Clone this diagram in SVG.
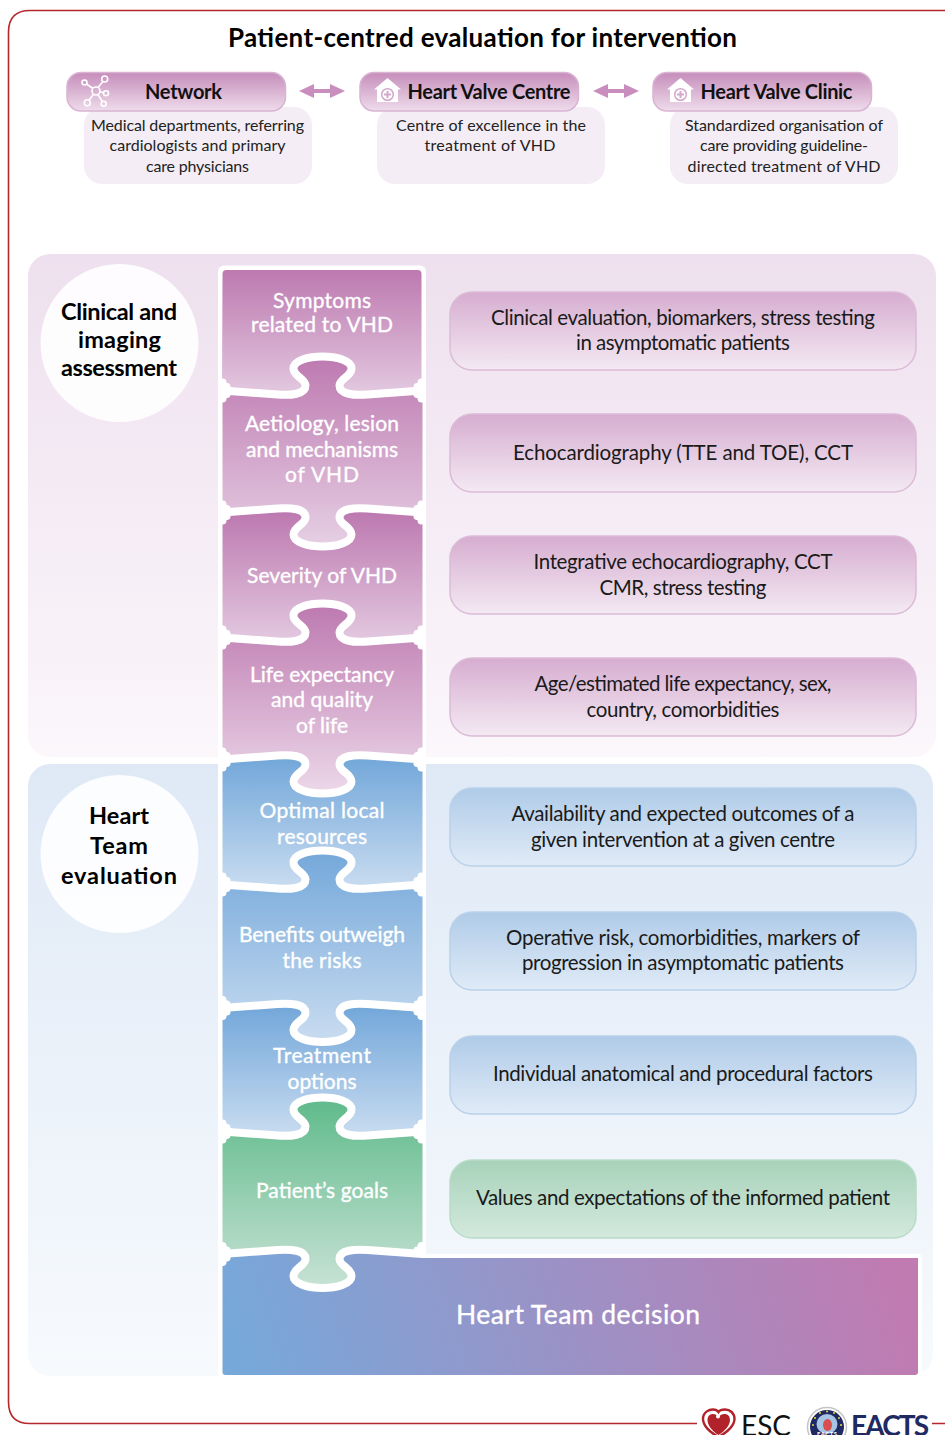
<svg xmlns="http://www.w3.org/2000/svg" xmlns:xlink="http://www.w3.org/1999/xlink" width="945" height="1435" viewBox="0 0 945 1435">
<style>
text{font-family:"Lato","Liberation Sans",sans-serif;text-anchor:middle}
.title{font-size:26px;font-weight:700;fill:#000}
.pt{font-size:20px;font-weight:700;fill:#111}
.dt{font-size:16px;fill:#222}
.ct{font-size:23.5px;font-weight:700;fill:#000}
.pz{font-size:21px;fill:#fff;stroke:#fff;stroke-width:.35}
.bt{font-size:20.5px;fill:#1a1a1a}
.pill{fill:url(#gPill);stroke:#d9b4d2;stroke-width:1.5}
.desc{fill:#f4edf5}
.seam{fill:none;stroke:#fff;stroke-width:8;stroke-linecap:butt;stroke-linejoin:round}
.bp{stroke:#dcbbd7;stroke-width:1.5;fill:url(#gBP)}
.bb{stroke:#b9d1ea;stroke-width:1.5;fill:url(#gBB)}
.bg{stroke:#b9dcc8;stroke-width:1.5;fill:url(#gBG)}
.ico{fill:none;stroke:#fff;stroke-width:1.6}
.hic{fill:none;stroke:#d3a8cb}
</style>
<defs>
<linearGradient id="gPill" x1="0" y1="0" x2="0" y2="1"><stop offset="0" stop-color="#c68dbb"/><stop offset="1" stop-color="#eedceb"/></linearGradient>
<linearGradient id="gP1" x1="0" y1="0" x2="0" y2="1"><stop offset="0" stop-color="#eee0ee"/><stop offset="1" stop-color="#fbf7fb"/></linearGradient>
<linearGradient id="gP2" x1="0" y1="0" x2="0" y2="1"><stop offset="0" stop-color="#dfe9f6"/><stop offset="1" stop-color="#f7fafd"/></linearGradient>
<linearGradient id="gBP" x1="0" y1="0" x2="0" y2="1"><stop offset="0" stop-color="#d6add0"/><stop offset="1" stop-color="#f4e9f3"/></linearGradient>
<linearGradient id="gBB" x1="0" y1="0" x2="0" y2="1"><stop offset="0" stop-color="#afcbe8"/><stop offset="1" stop-color="#e0ebf7"/></linearGradient>
<linearGradient id="gBG" x1="0" y1="0" x2="0" y2="1"><stop offset="0" stop-color="#a7d2b9"/><stop offset="1" stop-color="#d3e9dd"/></linearGradient>
<linearGradient id="g1" gradientUnits="userSpaceOnUse" x1="0" y1="270" x2="0" y2="395"><stop offset="0" stop-color="#bd79b0"/><stop offset="1" stop-color="#e3c9e0"/></linearGradient>
<linearGradient id="g2" gradientUnits="userSpaceOnUse" x1="0" y1="356" x2="0" y2="547"><stop offset="0" stop-color="#bd79b0"/><stop offset="1" stop-color="#e6d0e4"/></linearGradient>
<linearGradient id="g3" gradientUnits="userSpaceOnUse" x1="0" y1="512" x2="0" y2="642"><stop offset="0" stop-color="#bd79b0"/><stop offset="1" stop-color="#e3c9e0"/></linearGradient>
<linearGradient id="g4" gradientUnits="userSpaceOnUse" x1="0" y1="604" x2="0" y2="794"><stop offset="0" stop-color="#bd79b0"/><stop offset="1" stop-color="#ecd8e9"/></linearGradient>
<linearGradient id="g5" gradientUnits="userSpaceOnUse" x1="0" y1="760" x2="0" y2="888"><stop offset="0" stop-color="#74a8da"/><stop offset="1" stop-color="#c9dcf0"/></linearGradient>
<linearGradient id="g6" gradientUnits="userSpaceOnUse" x1="0" y1="851" x2="0" y2="1042"><stop offset="0" stop-color="#74a8da"/><stop offset="1" stop-color="#c9dcf0"/></linearGradient>
<linearGradient id="g7" gradientUnits="userSpaceOnUse" x1="0" y1="1008" x2="0" y2="1136"><stop offset="0" stop-color="#74a8da"/><stop offset="1" stop-color="#c9dcf0"/></linearGradient>
<linearGradient id="g8" gradientUnits="userSpaceOnUse" x1="0" y1="1097" x2="0" y2="1288"><stop offset="0" stop-color="#5eba8a"/><stop offset="1" stop-color="#c8e2d5"/></linearGradient>
<linearGradient id="g9" gradientUnits="userSpaceOnUse" x1="260" y1="1425" x2="880" y2="1225"><stop offset="0" stop-color="#77a8da"/><stop offset="1" stop-color="#c07bb1"/></linearGradient>
<marker id="ah" viewBox="0 0 15 14" refX="1" refY="7" markerUnits="userSpaceOnUse" markerWidth="15" markerHeight="14" orient="auto-start-reverse"><path d="M0,0L15,7L0,14Z" fill="#c98ebe"/></marker>
<path id="n" fill="#fff" d="M222,-8H222.500Q222.500,-4 226.500,-3.600L222,-3ZM222,8H222.500Q222.500,4 226.500,3.600L222,3ZM422,-8H421.500Q421.500,-4 417.500,-3.600L422,-3ZM422,8H421.500Q421.500,4 417.500,3.600L422,3Z"/>
<path id="n8" fill="#fff" d="M222,-8H222.500Q222.500,-4 226.500,-3.600L222,-3ZM222,8H222.500Q222.500,4 226.500,3.600L222,3ZM422,-8H421.500Q421.500,-4 417.500,-3.600L422,-3Z"/>
</defs>
<rect width="945" height="1435" fill="#fff"/>
<path d="M945,10.500H30Q8.500,10.500 8.500,32V1402Q8.500,1423.500 30,1423.500H697M932,1423.500H945" fill="none" stroke="#b7252d" stroke-width="1.6"/>
<text class="title" x="482.500" y="47" textLength="509">Patient-centred evaluation for intervention</text>

<g id="panel-clinical"><rect x="28" y="254" width="908" height="503" rx="22" fill="url(#gP1)"/></g>
<g id="panel-heart-team"><rect x="28" y="764" width="905" height="612" rx="22" fill="url(#gP2)"/></g>

<g id="connectors">
<line x1="313" y1="91" x2="331" y2="91" stroke="#c98ebe" stroke-width="4" marker-start="url(#ah)" marker-end="url(#ah)"/>
<line x1="607" y1="91" x2="625" y2="91" stroke="#c98ebe" stroke-width="4" marker-start="url(#ah)" marker-end="url(#ah)"/>
</g>

<g id="network">
<rect class="desc" x="84" y="107" width="228" height="77" rx="18"/>
<rect class="pill" x="67" y="72.500" width="218.500" height="38.500" rx="14"/>
<g class="ico"><circle cx="96" cy="91" r="4"/><circle cx="84.500" cy="82.500" r="2.500"/><circle cx="104.700" cy="79" r="3"/><circle cx="106" cy="93.300" r="2.500"/><circle cx="103.700" cy="103.700" r="2.500"/><circle cx="87.300" cy="102.700" r="3"/><path d="M93,88.500L86.500,84M98,87.500L103,81.500M100,91.700L103.500,92.800M98,94.500L102.300,101.500M93.500,94.200L89,100.300"/></g>
<text class="pt" x="183.500" y="98.500" textLength="77">Network</text>
<text class="dt" x="197.500" y="131" textLength="213">Medical departments, referring</text>
<text class="dt" x="197.500" y="151" textLength="176">cardiologists and primary</text>
<text class="dt" x="197.500" y="172" textLength="103">care physicians</text>
</g>
<g id="heart-valve-centre">
<rect class="desc" x="377" y="107" width="228" height="77" rx="18"/>
<rect class="pill" x="360" y="72.500" width="218.500" height="38.500" rx="14"/>
<path d="M387.500,78L401,89.500H398V102H377V89.500H374Z" fill="#fff"/><circle class="hic" cx="387.500" cy="94.500" r="5.800" stroke-width="1.500"/><path class="hic" d="M387.500,91V98M384,94.500H391" stroke-width="2"/>
<text class="pt" x="489" y="98.500" textLength="163">Heart Valve Centre</text>
<text class="dt" x="491" y="131" textLength="190">Centre of excellence in the</text>
<text class="dt" x="490" y="151" textLength="131">treatment of  VHD</text>
</g>
<g id="heart-valve-clinic">
<rect class="desc" x="670" y="107" width="228" height="77" rx="18"/>
<rect class="pill" x="653" y="72.500" width="218.500" height="38.500" rx="14"/>
<path d="M680.500,78L694,89.500H691V102H670V89.500H667Z" fill="#fff"/><circle class="hic" cx="680.500" cy="94.500" r="5.800" stroke-width="1.500"/><path class="hic" d="M680.500,91V98M677,94.500H684" stroke-width="2"/>
<text class="pt" x="776.500" y="98.500" textLength="152">Heart Valve Clinic</text>
<text class="dt" x="784" y="131" textLength="198">Standardized organisation of</text>
<text class="dt" x="784" y="151" textLength="168">care providing guideline-</text>
<text class="dt" x="784" y="172" textLength="193">directed treatment of  VHD</text>
</g>

<g id="group-clinical">
<circle cx="119.500" cy="343" r="79" fill="#fff" fill-opacity=".9"/>
<text class="ct" x="119" y="320" textLength="116">Clinical and</text><text class="ct" x="119.500" y="348" textLength="83">imaging</text><text class="ct" x="119" y="376" textLength="116">assessment</text>
</g>
<g id="group-heart-team">
<circle cx="119.500" cy="854" r="79" fill="#fff" fill-opacity=".9"/>
<text class="ct" x="119" y="824" textLength="60">Heart</text><text class="ct" x="119" y="854" textLength="58">Team</text><text class="ct" x="119" y="884" textLength="116">evaluation</text>
</g>

<g id="puzzle-backing"><rect x="218" y="265.500" width="208" height="990" rx="6" fill="#fff"/><rect x="218" y="1254" width="704" height="123" rx="4" fill="#fff"/></g>

<g id="piece-1"><path d="M222.500,274Q222.500,270 226.500,270H417.500Q421.500,270 421.500,274V390.500h.5l-55,4c-13,1 -28,0 -28,-9c0,-7 12,-9 12,-17c0,-8 -15,-12 -29,-12c-14,0 -29,4 -29,12c0,8 12,10 12,17c0,9 -15,10 -28,9l-55,-4Z" fill="url(#g1)"/>
<text class="pz" x="322" y="308" textLength="98">Symptoms</text><text class="pz" x="322" y="332" textLength="142">related to VHD</text></g>
<g id="piece-2"><path d="M222.500,390.500l55,4c13,1 28,0 28,-9c0,-7 -12,-9 -12,-17c0,-8 15,-12 29,-12c14,0 29,4 29,12c0,8 -12,10 -12,17c0,9 15,10 28,9l55,-4V512.500l-55,-4c-13,-1 -28,0 -28,9c0,7 12,9 12,17c0,8 -15,12 -29,12c-14,0 -29,-4 -29,-12c0,-8 12,-10 12,-17c0,-9 -15,-10 -28,-9l-55,4Z" fill="url(#g2)"/>
<text class="pz" x="322" y="431" textLength="154">Aetiology, lesion</text><text class="pz" x="322" y="457" textLength="152">and mechanisms</text><text class="pz" x="322" y="482" textLength="74">of  VHD</text></g>
<g id="piece-3"><path d="M222.500,512.500l55,-4c13,-1 28,0 28,9c0,7 -12,9 -12,17c0,8 15,12 29,12c14,0 29,-4 29,-12c0,-8 -12,-10 -12,-17c0,-9 15,-10 28,-9l55,4V637.500l-55,4c-13,1 -28,0 -28,-9c0,-7 12,-9 12,-17c0,-8 -15,-12 -29,-12c-14,0 -29,4 -29,12c0,8 12,10 12,17c0,9 -15,10 -28,9l-55,-4Z" fill="url(#g3)"/>
<text class="pz" x="322" y="583" textLength="150">Severity of VHD</text></g>
<g id="piece-4"><path d="M222.500,637.500l55,4c13,1 28,0 28,-9c0,-7 -12,-9 -12,-17c0,-8 15,-12 29,-12c14,0 29,4 29,12c0,8 -12,10 -12,17c0,9 15,10 28,9l55,-4V759.500l-55,-4c-13,-1 -28,0 -28,9c0,7 12,9 12,17c0,8 -15,12 -29,12c-14,0 -29,-4 -29,-12c0,-8 12,-10 12,-17c0,-9 -15,-10 -28,-9l-55,4Z" fill="url(#g4)"/>
<text class="pz" x="322" y="682" textLength="144">Life expectancy</text><text class="pz" x="322" y="707" textLength="102">and quality</text><text class="pz" x="322" y="733" textLength="52">of life</text></g>
<g id="piece-5"><path d="M222.500,759.500l55,-4c13,-1 28,0 28,9c0,7 -12,9 -12,17c0,8 15,12 29,12c14,0 29,-4 29,-12c0,-8 -12,-10 -12,-17c0,-9 15,-10 28,-9l55,4V884.500l-55,4c-13,1 -28,0 -28,-9c0,-7 12,-9 12,-17c0,-8 -15,-12 -29,-12c-14,0 -29,4 -29,12c0,8 12,10 12,17c0,9 -15,10 -28,9l-55,-4Z" fill="url(#g5)"/>
<text class="pz" x="322" y="818" textLength="125">Optimal local</text><text class="pz" x="322" y="844" textLength="90">resources</text></g>
<g id="piece-6"><path d="M222.500,884.500l55,4c13,1 28,0 28,-9c0,-7 -12,-9 -12,-17c0,-8 15,-12 29,-12c14,0 29,4 29,12c0,8 -12,10 -12,17c0,9 15,10 28,9l55,-4V1008l-55,-4c-13,-1 -28,0 -28,9c0,7 12,9 12,17c0,8 -15,12 -29,12c-14,0 -29,-4 -29,-12c0,-8 12,-10 12,-17c0,-9 -15,-10 -28,-9l-55,4Z" fill="url(#g6)"/>
<text class="pz" x="322" y="942" textLength="166">Benefits outweigh</text><text class="pz" x="322" y="968" textLength="79">the risks</text></g>
<g id="piece-7"><path d="M222.500,1008l55,-4c13,-1 28,0 28,9c0,7 -12,9 -12,17c0,8 15,12 29,12c14,0 29,-4 29,-12c0,-8 -12,-10 -12,-17c0,-9 15,-10 28,-9l55,4V1131.500l-55,4c-13,1 -28,0 -28,-9c0,-7 12,-9 12,-17c0,-8 -15,-12 -29,-12c-14,0 -29,4 -29,12c0,8 12,10 12,17c0,9 -15,10 -28,9l-55,-4Z" fill="url(#g7)"/>
<text class="pz" x="322" y="1063" textLength="98">Treatment</text><text class="pz" x="322" y="1089" textLength="69">options</text></g>
<g id="piece-8"><path d="M222.500,1131.500l55,4c13,1 28,0 28,-9c0,-7 -12,-9 -12,-17c0,-8 15,-12 29,-12c14,0 29,4 29,12c0,8 -12,10 -12,17c0,9 15,10 28,9l55,-4V1254l-55,-4c-13,-1 -28,0 -28,9c0,7 12,9 12,17c0,8 -15,12 -29,12c-14,0 -29,-4 -29,-12c0,-8 12,-10 12,-17c0,-9 -15,-10 -28,-9l-55,4Z" fill="url(#g8)"/>
<text class="pz" x="322" y="1198" textLength="132">Patient’s goals</text></g>
<g id="piece-9"><path d="M222.500,1254l55,-4c13,-1 28,0 28,9c0,7 -12,9 -12,17c0,8 15,12 29,12c14,0 29,-4 29,-12c0,-8 -12,-10 -12,-17c0,-9 15,-10 28,-9l55,4L426,1258H918V1372Q918,1375 915,1375H225.500Q222.500,1375 222.500,1372Z" fill="url(#g9)"/>
<text class="pz" x="578" y="1324" textLength="244" style="font-size:26.500px">Heart Team decision</text></g>

<g id="puzzle-seams" class="seam">
<path d="M218,390.500h4.500l55,4c13,1 28,0 28,-9c0,-7 -12,-9 -12,-17c0,-8 15,-12 29,-12c14,0 29,4 29,12c0,8 -12,10 -12,17c0,9 15,10 28,9l55,-4h3.500"/>
<path d="M218,512.500h4.500l55,-4c13,-1 28,0 28,9c0,7 -12,9 -12,17c0,8 15,12 29,12c14,0 29,-4 29,-12c0,-8 -12,-10 -12,-17c0,-9 15,-10 28,-9l55,4h3.500"/>
<path d="M218,637.500h4.500l55,4c13,1 28,0 28,-9c0,-7 -12,-9 -12,-17c0,-8 15,-12 29,-12c14,0 29,4 29,12c0,8 -12,10 -12,17c0,9 15,10 28,9l55,-4h3.500"/>
<path d="M218,759.500h4.500l55,-4c13,-1 28,0 28,9c0,7 -12,9 -12,17c0,8 15,12 29,12c14,0 29,-4 29,-12c0,-8 -12,-10 -12,-17c0,-9 15,-10 28,-9l55,4h3.500"/>
<path d="M218,884.500h4.500l55,4c13,1 28,0 28,-9c0,-7 -12,-9 -12,-17c0,-8 15,-12 29,-12c14,0 29,4 29,12c0,8 -12,10 -12,17c0,9 15,10 28,9l55,-4h3.500"/>
<path d="M218,1008h4.500l55,-4c13,-1 28,0 28,9c0,7 -12,9 -12,17c0,8 15,12 29,12c14,0 29,-4 29,-12c0,-8 -12,-10 -12,-17c0,-9 15,-10 28,-9l55,4h3.500"/>
<path d="M218,1131.500h4.500l55,4c13,1 28,0 28,-9c0,-7 -12,-9 -12,-17c0,-8 15,-12 29,-12c14,0 29,4 29,12c0,8 -12,10 -12,17c0,9 15,10 28,9l55,-4h3.500"/>
<path d="M218,1254h4.500l55,-4c13,-1 28,0 28,9c0,7 -12,9 -12,17c0,8 15,12 29,12c14,0 29,-4 29,-12c0,-8 -12,-10 -12,-17c0,-9 15,-10 28,-9l55,4h3.500"/>
<use href="#n" y="390.500"/><use href="#n" y="512.500"/><use href="#n" y="637.500"/><use href="#n" y="759.500"/><use href="#n" y="884.500"/><use href="#n" y="1008"/><use href="#n" y="1131.500"/><use href="#n8" y="1254"/>
</g>

<g id="detail-1"><rect class="bp" x="450" y="292" width="466" height="78" rx="22"/><text class="bt" x="683" y="325" textLength="384">Clinical evaluation, biomarkers, stress testing</text><text class="bt" x="683" y="350" textLength="214">in asymptomatic patients</text></g>
<g id="detail-2"><rect class="bp" x="450" y="414" width="466" height="78" rx="22"/><text class="bt" x="683" y="460" textLength="340">Echocardiography (TTE and TOE), CCT</text></g>
<g id="detail-3"><rect class="bp" x="450" y="536" width="466" height="78" rx="22"/><text class="bt" x="683" y="569" textLength="299">Integrative echocardiography, CCT</text><text class="bt" x="683" y="595" textLength="167">CMR, stress testing</text></g>
<g id="detail-4"><rect class="bp" x="450" y="658" width="466" height="78" rx="22"/><text class="bt" x="683" y="691" textLength="297">Age/estimated life expectancy, sex,</text><text class="bt" x="683" y="717" textLength="193">country, comorbidities</text></g>
<g id="detail-5"><rect class="bb" x="450" y="788" width="466" height="78" rx="22"/><text class="bt" x="683" y="821" textLength="343">Availability and expected outcomes of a</text><text class="bt" x="683" y="847" textLength="304">given intervention at a given centre</text></g>
<g id="detail-6"><rect class="bb" x="450" y="912" width="466" height="78" rx="22"/><text class="bt" x="683" y="945" textLength="354">Operative risk, comorbidities, markers of</text><text class="bt" x="683" y="970" textLength="322">progression in asymptomatic patients</text></g>
<g id="detail-7"><rect class="bb" x="450" y="1036" width="466" height="78" rx="22"/><text class="bt" x="683" y="1081" textLength="380">Individual anatomical and procedural factors</text></g>
<g id="detail-8"><rect class="bg" x="450" y="1160" width="466" height="78" rx="22"/><text class="bt" x="683" y="1205" textLength="414">Values and expectations of the informed patient</text></g>

<g id="logos">
<path d="M718.500,1437C709,1432 703,1425 703,1419C703,1412 709,1409.500 713,1409.500C716,1409.500 717.500,1410.500 718.500,1412C719.500,1410.500 721,1409.500 725,1409.500C730,1409.500 734.500,1413 734.500,1419C734.500,1425 728,1432 718.500,1437Z" fill="#fff" stroke="#b2222a" stroke-width="2.400"/>
<path d="M718.500,1435C712,1431 707.500,1425 707.500,1420C707.500,1416 710,1414 713,1414C715,1414 717,1415 718.500,1417C720,1415 722,1414 724.500,1414C727.500,1414 730,1416 730,1420C730,1425 725,1431 718.500,1435Z" fill="#b2222a"/>
<circle cx="718" cy="1416.500" r="2" fill="#fff"/>
<text x="766" y="1436" textLength="50" style="font-size:28px;fill:#111">ESC</text>
<circle cx="827" cy="1427" r="19.500" fill="#fff" stroke="#c4c4c4" stroke-width="1.500"/>
<circle cx="827" cy="1427" r="17" fill="#1f2a63"/>
<ellipse cx="827" cy="1424" rx="10.500" ry="10" fill="#a6c4e4"/><ellipse cx="827.500" cy="1425" rx="4.500" ry="6" fill="#d84f4f"/>
<g fill="#f2d43a"><circle cx="827" cy="1411.500" r="1"/><circle cx="820" cy="1413" r="1"/><circle cx="834" cy="1413" r="1"/><circle cx="815" cy="1418" r="1"/><circle cx="839" cy="1418" r="1"/><circle cx="813" cy="1425" r="1"/><circle cx="841" cy="1425" r="1"/></g>
<text x="827" y="1436" textLength="20" style="font-size:6px;font-weight:700;fill:#fff">EACTS</text>
<text x="890" y="1436" textLength="78" style="font-size:28px;font-weight:700;fill:#1f2a63">EACTS</text>
</g>
</svg>
